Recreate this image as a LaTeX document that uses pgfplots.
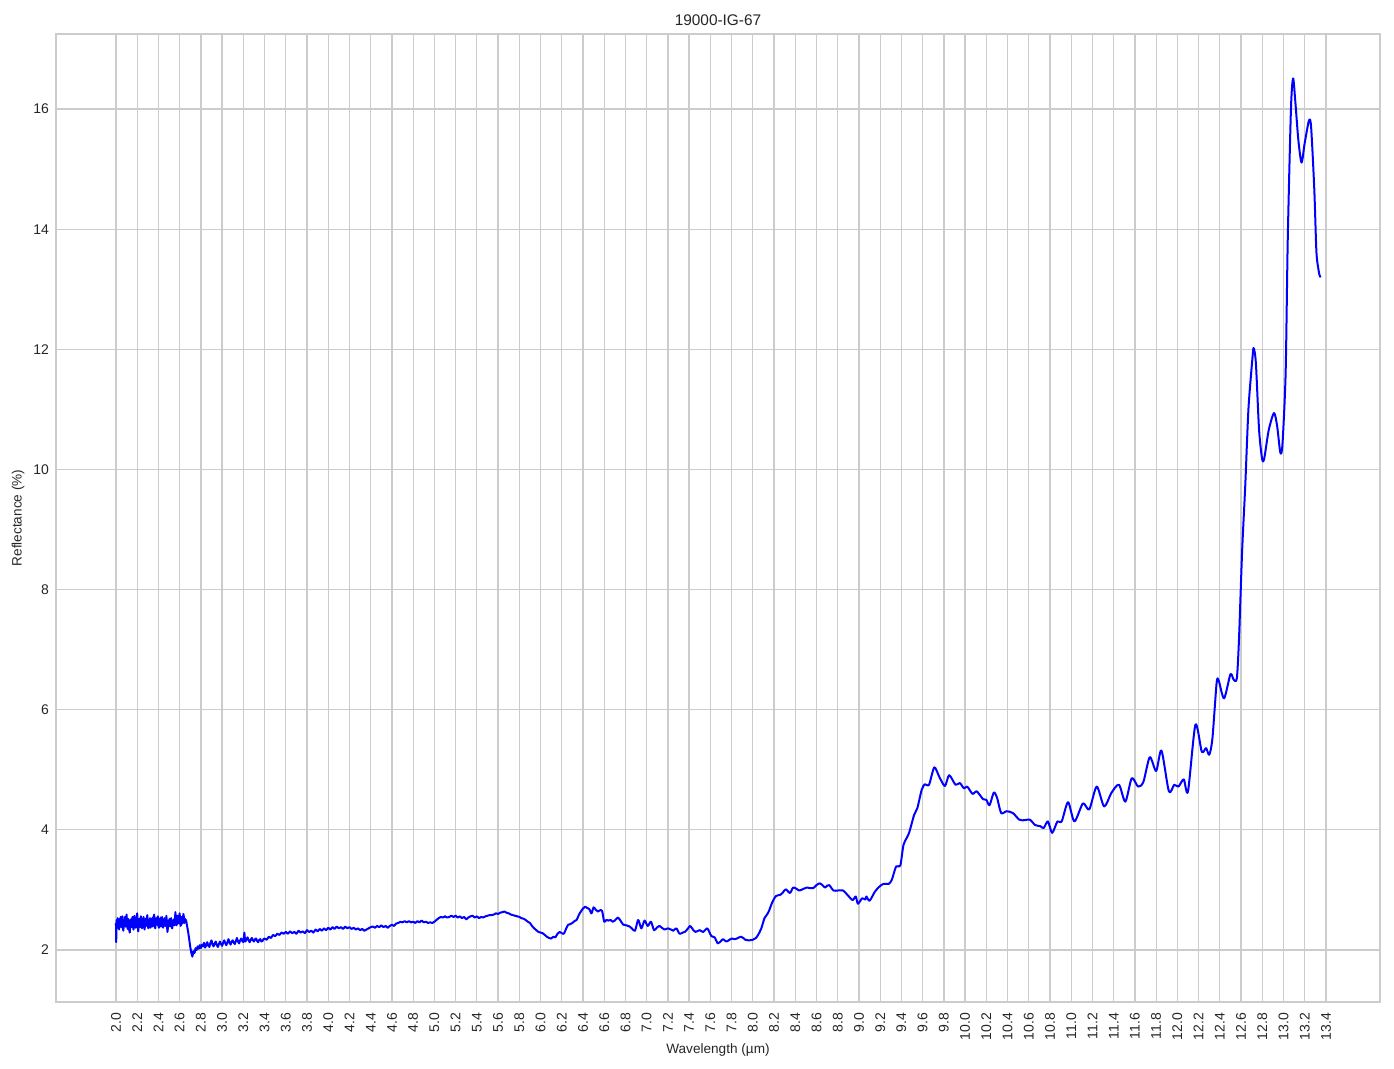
\documentclass[border=0pt]{standalone}
\usepackage{pgfplots}
\pgfplotsset{compat=1.18}
\usepackage{fontspec}
\setmainfont{Liberation Sans}
\definecolor{gridc}{HTML}{CCCCCC}
\definecolor{txt}{HTML}{262626}
\begin{document}
\begin{tikzpicture}
\begin{axis}[
  name=ax,
  scale only axis, width=662pt, height=484pt,
  xmin=1.435, xmax=13.909, ymin=1.134, ymax=17.25,
  xtick={2.0,2.2,2.4,2.6,2.8,3.0,3.2,3.4,3.6,3.8,4.0,4.2,4.4,4.6,4.8,5.0,5.2,5.4,5.6,5.8,6.0,6.2,6.4,6.6,6.8,7.0,7.2,7.4,7.6,7.8,8.0,8.2,8.4,8.6,8.8,9.0,9.2,9.4,9.6,9.8,10.0,10.2,10.4,10.6,10.8,11.0,11.2,11.4,11.6,11.8,12.0,12.2,12.4,12.6,12.8,13.0,13.2,13.4},
  ytick={2,4,6,8,10,12,14,16},
  xticklabel style={/pgf/number format/.cd, fixed, fixed zerofill, precision=1, /tikz/.cd, rotate=90, anchor=east, font=\fontsize{7}{8}\selectfont, text=txt, xshift=-2pt},
  yticklabel style={font=\fontsize{7}{8}\selectfont, text=txt},
  /pgf/number format/assume math mode=true,
  major tick length=0pt,
  grid=major,
  grid style={color=gridc, line width=0.65pt},
  axis line style={color=gridc, line width=0.65pt},
  title={19000-IG-67},
  title style={at={(axis description cs:0.5,1)}, anchor=center, yshift=1pt, font=\fontsize{7.7}{9}\selectfont, text=txt},
  xlabel={Wavelength (µm)},
  xlabel style={font=\fontsize{6.8}{8}\selectfont, text=txt, yshift=5pt},
  ylabel={Reflectance (\%)},
  ylabel style={at={(axis description cs:0,0.5)}, anchor=center, yshift=19pt, font=\fontsize{6.8}{8}\selectfont, text=txt},
]
\addplot[color=blue, line width=1pt, line join=round] coordinates {
(2.000,2.45)(2.002,2.13)(2.004,2.30)(2.006,2.50)(2.010,2.36)(2.015,2.53)(2.020,2.40)(2.025,2.49)(2.030,2.34)(2.035,2.52)
(2.040,2.41)(2.045,2.55)(2.050,2.38)(2.055,2.47)(2.060,2.56)(2.065,2.36)(2.070,2.32)(2.075,2.50)(2.080,2.44)(2.085,2.55)
(2.090,2.39)(2.095,2.47)(2.100,2.59)(2.105,2.42)(2.110,2.35)(2.115,2.52)(2.120,2.44)(2.125,2.33)(2.130,2.29)(2.135,2.46)
(2.140,2.51)(2.145,2.38)(2.150,2.45)(2.155,2.55)(2.160,2.40)(2.165,2.34)(2.170,2.49)(2.175,2.57)(2.180,2.43)(2.185,2.37)
(2.190,2.52)(2.195,2.45)(2.200,2.61)(2.205,2.39)(2.210,2.31)(2.215,2.47)(2.220,2.52)(2.225,2.38)(2.230,2.44)(2.235,2.56)
(2.240,2.41)(2.245,2.36)(2.250,2.50)(2.255,2.44)(2.260,2.55)(2.265,2.38)(2.270,2.34)(2.275,2.48)(2.280,2.52)(2.285,2.40)
(2.290,2.46)(2.295,2.58)(2.300,2.42)(2.305,2.36)(2.310,2.50)(2.315,2.45)(2.320,2.53)(2.325,2.37)(2.330,2.41)(2.335,2.52)
(2.340,2.46)(2.345,2.39)(2.350,2.55)(2.355,2.44)(2.360,2.59)(2.365,2.40)(2.370,2.36)(2.375,2.49)(2.380,2.53)(2.385,2.42)
(2.390,2.47)(2.395,2.56)(2.400,2.40)(2.405,2.37)(2.410,2.51)(2.415,2.46)(2.420,2.54)(2.425,2.39)(2.430,2.43)(2.435,2.55)
(2.440,2.45)(2.445,2.37)(2.450,2.50)(2.455,2.44)(2.460,2.53)(2.465,2.40)(2.470,2.46)(2.475,2.57)(2.480,2.43)(2.485,2.30)
(2.490,2.38)(2.495,2.49)(2.500,2.44)(2.505,2.52)(2.510,2.39)(2.515,2.45)(2.520,2.53)(2.525,2.40)(2.530,2.36)(2.535,2.48)
(2.540,2.44)(2.545,2.51)(2.550,2.41)(2.555,2.49)(2.560,2.63)(2.565,2.48)(2.570,2.41)(2.575,2.52)(2.580,2.57)(2.585,2.44)
(2.590,2.48)(2.595,2.55)(2.600,2.61)(2.605,2.45)(2.610,2.40)(2.615,2.50)(2.620,2.55)(2.625,2.44)(2.630,2.49)(2.635,2.60)
(2.640,2.55)(2.645,2.45)(2.650,2.52)(2.655,2.47)(2.660,2.50)(2.665,2.45)(2.670,2.40)
(2.68,2.30)(2.69,2.18)(2.70,2.05)(2.71,1.95)(2.72,1.89)(2.73,1.98)(2.74,1.95)(2.75,2.03)(2.76,2.00)(2.77,2.06)
(2.78,2.02)(2.79,2.08)(2.80,2.03)(2.81,2.09)(2.82,2.06)(2.83,2.12)(2.84,2.04)(2.85,2.08)(2.86,2.13)(2.87,2.07)
(2.88,2.05)(2.89,2.12)(2.90,2.16)(2.91,2.09)(2.92,2.06)(2.93,2.11)(2.94,2.14)(2.95,2.08)(2.96,2.05)(2.97,2.10)
(2.98,2.14)(2.99,2.10)(3.00,2.07)(3.01,2.12)(3.02,2.16)(3.03,2.11)(3.04,2.08)(3.05,2.13)(3.06,2.18)(3.07,2.12)
(3.08,2.09)(3.09,2.14)(3.10,2.16)(3.11,2.12)(3.12,2.10)(3.13,2.15)(3.14,2.20)(3.15,2.14)(3.16,2.11)(3.17,2.16)
(3.18,2.19)(3.19,2.15)(3.20,2.13)(3.21,2.29)(3.215,2.18)(3.22,2.14)(3.23,2.18)(3.24,2.21)(3.25,2.16)(3.26,2.13)
(3.27,2.17)(3.28,2.20)(3.29,2.16)(3.30,2.14)(3.31,2.18)(3.32,2.19)(3.33,2.15)(3.34,2.13)(3.35,2.17)(3.36,2.18)
(3.37,2.14)(3.38,2.15)(3.39,2.18)(3.40,2.19)(3.42,2.17)(3.44,2.22)(3.46,2.20)(3.48,2.25)(3.50,2.23)(3.52,2.27)
(3.54,2.25)(3.56,2.29)(3.58,2.27)(3.60,2.30)(3.62,2.27)(3.64,2.31)(3.66,2.28)(3.68,2.30)(3.70,2.27)(3.72,2.32)
(3.74,2.29)(3.76,2.31)(3.78,2.28)(3.80,2.33)(3.82,2.30)(3.84,2.32)(3.86,2.29)(3.88,2.34)(3.90,2.31)(3.92,2.35)
(3.94,2.32)(3.96,2.36)(3.98,2.33)(4.00,2.37)(4.02,2.34)(4.04,2.38)(4.06,2.35)(4.08,2.39)(4.10,2.36)(4.12,2.38)
(4.14,2.35)(4.16,2.39)(4.18,2.36)(4.20,2.38)(4.22,2.35)(4.24,2.37)(4.26,2.34)(4.28,2.36)(4.30,2.33)(4.32,2.35)
(4.34,2.32)(4.36,2.34)(4.38,2.36)(4.40,2.38)(4.42,2.39)(4.44,2.37)(4.46,2.40)(4.48,2.38)(4.50,2.41)(4.52,2.38)
(4.54,2.40)(4.56,2.37)(4.58,2.40)(4.60,2.42)(4.62,2.40)(4.64,2.44)(4.66,2.45)(4.68,2.47)(4.70,2.46)(4.72,2.48)
(4.74,2.46)(4.76,2.48)(4.78,2.46)(4.80,2.47)(4.82,2.45)(4.84,2.48)(4.86,2.46)(4.88,2.49)(4.90,2.46)(4.92,2.47)
(4.94,2.45)(4.96,2.46)(4.98,2.45)(5.00,2.47)(5.02,2.50)(5.04,2.53)(5.06,2.55)(5.08,2.54)(5.10,2.56)(5.12,2.54)
(5.14,2.55)(5.16,2.57)(5.18,2.55)(5.20,2.57)(5.22,2.54)(5.24,2.56)(5.26,2.53)(5.28,2.55)(5.30,2.51)(5.32,2.54)
(5.34,2.56)(5.36,2.57)(5.38,2.54)(5.40,2.56)(5.42,2.53)(5.44,2.55)(5.46,2.54)(5.48,2.56)(5.50,2.57)(5.52,2.58)
(5.54,2.58)(5.56,2.59)(5.58,2.61)(5.60,2.60)(5.62,2.62)(5.64,2.63)(5.66,2.64)(5.68,2.62)(5.70,2.61)(5.72,2.59)
(5.74,2.58)(5.76,2.57)(5.78,2.56)(5.80,2.55)(5.82,2.53)(5.84,2.52)(5.86,2.50)(5.88,2.47)(5.90,2.45)(5.92,2.40)
(5.94,2.36)(5.96,2.33)(5.98,2.30)(6.00,2.29)(6.02,2.28)(6.04,2.25)(6.06,2.22)(6.08,2.20)(6.10,2.19)(6.12,2.22)
(6.14,2.21)(6.16,2.27)(6.18,2.30)(6.20,2.28)
};
\addplot[color=blue, line width=1pt, line join=round, smooth, tension=0.45] coordinates {
(6.20,2.28)(6.22,2.27)(6.24,2.35)(6.26,2.42)(6.28,2.43)(6.30,2.45)(6.32,2.48)
(6.34,2.50)(6.36,2.58)(6.38,2.64)(6.40,2.69)(6.42,2.72)(6.44,2.70)(6.46,2.68)(6.48,2.61)(6.50,2.71)(6.52,2.67)
(6.54,2.64)(6.56,2.66)(6.58,2.65)(6.60,2.47)(6.62,2.50)(6.64,2.49)(6.66,2.50)(6.68,2.47)(6.70,2.49)(6.73,2.54)
(6.76,2.47)(6.78,2.42)(6.81,2.41)(6.84,2.39)(6.86,2.36)(6.89,2.32)(6.92,2.50)(6.95,2.36)(6.98,2.49)(7.01,2.40)
(7.04,2.47)(7.07,2.33)(7.10,2.38)(7.12,2.40)(7.15,2.36)(7.17,2.34)(7.20,2.36)(7.23,2.34)(7.25,2.32)(7.28,2.36)
(7.31,2.27)(7.34,2.29)(7.36,2.30)(7.39,2.36)(7.41,2.40)(7.44,2.33)(7.46,2.30)(7.50,2.33)(7.53,2.30)(7.57,2.36)
(7.59,2.30)(7.61,2.23)(7.64,2.21)(7.67,2.11)(7.70,2.15)(7.72,2.18)(7.75,2.14)(7.78,2.17)(7.80,2.19)(7.83,2.18)
(7.85,2.19)(7.87,2.21)(7.89,2.22)(7.91,2.20)(7.93,2.17)(7.96,2.16)(8.00,2.17)(8.03,2.20)(8.05,2.25)(8.08,2.36)
(8.11,2.53)(8.13,2.58)(8.15,2.64)(8.18,2.78)(8.20,2.85)(8.22,2.90)(8.26,2.92)(8.28,2.95)(8.31,3.01)(8.35,2.95)
(8.38,3.04)(8.41,3.02)(8.44,2.99)(8.48,3.02)(8.51,3.04)(8.54,3.03)(8.57,3.03)(8.60,3.08)(8.63,3.11)(8.65,3.09)
(8.68,3.04)(8.70,3.07)(8.72,3.08)(8.76,2.99)(8.80,2.99)(8.85,2.99)(8.90,2.90)(8.94,2.83)(8.97,2.89)(8.99,2.77)
(9.03,2.86)(9.06,2.84)(9.07,2.89)(9.10,2.82)(9.15,2.97)(9.19,3.05)(9.23,3.10)(9.28,3.10)(9.31,3.17)(9.35,3.39)
(9.39,3.41)(9.42,3.75)(9.47,3.94)(9.52,4.25)(9.55,4.36)(9.59,4.66)(9.62,4.76)(9.66,4.75)(9.71,5.04)(9.76,4.87)
(9.81,4.73)(9.85,4.91)(9.91,4.75)(9.95,4.78)(9.99,4.69)(10.02,4.72)(10.07,4.60)(10.11,4.64)(10.17,4.51)(10.20,4.50)
(10.23,4.41)(10.27,4.62)(10.30,4.54)(10.34,4.28)(10.39,4.31)(10.45,4.28)(10.51,4.17)(10.56,4.16)(10.61,4.17)(10.66,4.08)
(10.71,4.06)(10.74,4.03)(10.78,4.14)(10.82,3.95)(10.87,4.14)(10.91,4.14)(10.97,4.46)(11.03,4.14)(11.11,4.44)(11.17,4.34)
(11.24,4.72)(11.31,4.39)(11.38,4.62)(11.45,4.75)(11.51,4.47)(11.57,4.86)(11.63,4.72)(11.68,4.80)(11.74,5.21)(11.80,4.98)
(11.85,5.32)(11.92,4.64)(11.97,4.75)(12.01,4.72)(12.06,4.84)(12.10,4.64)(12.17,5.75)(12.23,5.30)(12.27,5.36)(12.30,5.25)
(12.33,5.52)(12.37,6.45)(12.39,6.48)(12.44,6.19)(12.50,6.59)(12.53,6.50)(12.56,6.52)(12.58,7.15)(12.61,8.64)(12.64,9.75)
(12.67,11.02)(12.71,11.91)(12.72,12.02)(12.74,11.76)(12.77,10.65)(12.80,10.16)(12.82,10.20)(12.86,10.65)(12.91,10.94)(12.94,10.72)
(12.97,10.28)(12.99,10.42)(13.02,11.61)(13.04,13.84)(13.07,16.00)(13.09,16.51)(13.11,16.15)(13.14,15.48)(13.17,15.11)(13.20,15.44)
(13.24,15.81)(13.26,15.70)(13.29,14.66)(13.31,13.62)(13.33,13.32)(13.34,13.23)(13.35,13.20)
};
\end{axis}
\pgfresetboundingbox
\path ([shift={(-28pt,-33.5pt)}]ax.south west) rectangle ([shift={(7pt,17pt)}]ax.north east);
\end{tikzpicture}
\end{document}
